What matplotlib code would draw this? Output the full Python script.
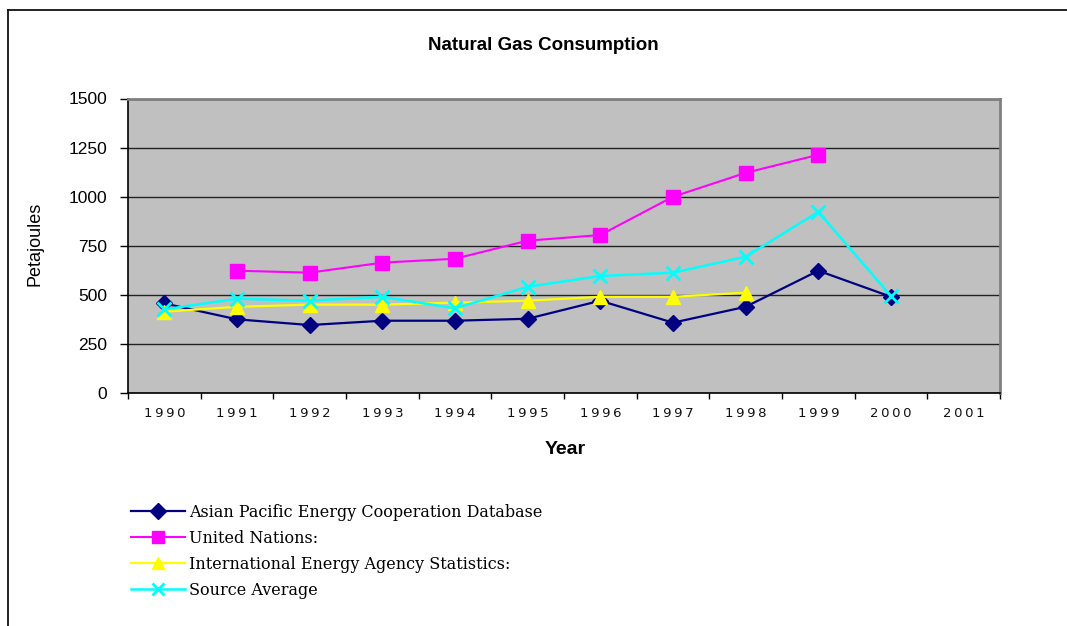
import numpy as np
import matplotlib
matplotlib.use("Agg")
import matplotlib.pyplot as plt
from matplotlib.lines import Line2D

years = ["1990", "1991", "1992", "1993", "1994", "1995", "1996", "1997", "1998", "1999", "2000", "2001"]
nan = np.nan
apec = [455, 374, 345, 367, 367, 377, 469, 357, 438, 622, 489, nan]
un = [nan, 622, 612, 663, 683, 775, 804, 999, 1121, 1213, nan, nan]
iea = [413, 438, 449, 449, 459, 469, 489, 489, 510, nan, nan, nan]
avg = [425, 479, 469, 489, 430, 540, 595, 612, 693, 922, 493, nan]

labels = ["Asian Pacific Energy Cooperation Database", "United Nations:",
          "International Energy Agency Statistics:", "Source Average"]
yticks = [0, 250, 500, 750, 1000, 1250, 1500]

W, H = 1067, 626
fig = plt.figure(figsize=(W / 100, H / 100), dpi=100)
fig.patch.set_facecolor("white")

L, R, T, B = 128, 1000, 98.5, 392.7
ax = fig.add_axes([L / W, 1 - B / H, (R - L) / W, (B - T) / H])
ax.set_facecolor("#C0C0C0")

x = np.arange(len(years))
ax.plot(x, apec, color="#000080", lw=1.6, marker="D", ms=8.5, mfc="#000080", mec="#000080", label=labels[0], zorder=3)
ax.plot(x, un, color="#FF00FF", lw=1.5, marker="s", ms=10, mfc="#FF00FF", mec="#FF00FF", label=labels[1], zorder=3)
ax.plot(x, iea, color="#FFFF00", lw=1.6, marker="^", ms=10, mfc="#FFFF00", mec="#FFFF00", label=labels[2], zorder=3)
ax.plot(x, avg, color="#00FFFF", lw=1.8, marker="x", ms=10, mew=2, mfc="#00FFFF", mec="#00FFFF", label=labels[3], zorder=4)

ax.set_xlim(-0.5, len(years) - 0.5)
ax.set_ylim(0, 1500)
ax.set_yticks(yticks)
ax.set_yticklabels([str(v) for v in yticks], fontfamily="Liberation Sans", fontsize=12.5)
ax.yaxis.grid(True, color="#222222", lw=1.0)
ax.set_axisbelow(True)

ax.set_xticks(np.arange(-0.5, len(years), 1.0))
ax.set_xticklabels([])
ax.set_xticks(x, minor=True)
ax.set_xticklabels(["\u2009".join(y) for y in years], minor=True,
                   fontfamily="DejaVu Sans", fontsize=9.5, color="#111111")
ax.tick_params(axis="x", which="major", direction="out", length=4, width=1, color="black")
ax.tick_params(axis="x", which="minor", length=0, pad=10.5)
ax.tick_params(axis="y", direction="out", length=6, width=1, color="black", pad=9)

for s in ["top", "right"]:
    ax.spines[s].set_color("#808080")
    ax.spines[s].set_linewidth(2)
for s in ["left", "bottom"]:
    ax.spines[s].set_color("black")
    ax.spines[s].set_linewidth(1.2)

fig.text(543 / W, 1 - 45 / H, "Natural Gas Consumption", ha="center", va="center",
         fontfamily="Liberation Sans", fontweight="bold", fontsize=13.5)
fig.text(565 / W, 1 - 450 / H, "Year", ha="center", va="center",
         fontfamily="Liberation Sans", fontweight="bold", fontsize=14)
fig.text(35 / W, 1 - 244 / H, "Petajoules", ha="center", va="center", rotation=90,
         fontfamily="Liberation Sans", fontsize=13)

fig.legend(loc="upper left", bbox_to_anchor=(131 / W, 1 - 504 / H), frameon=False,
           prop={"family": "DejaVu Serif", "size": 11.5}, handlelength=3.4,
           handletextpad=0.25, labelspacing=0.56, borderpad=0, borderaxespad=0,
           markerscale=0.9)

fig.add_artist(Line2D([8 / W, 1], [1 - 10 / H, 1 - 10 / H], transform=fig.transFigure, color="#111111", lw=1.3))
fig.add_artist(Line2D([8 / W, 8 / W], [0, 1 - 10 / H], transform=fig.transFigure, color="#111111", lw=1.3))

fig.savefig("out.png", dpi=100, facecolor="white")
